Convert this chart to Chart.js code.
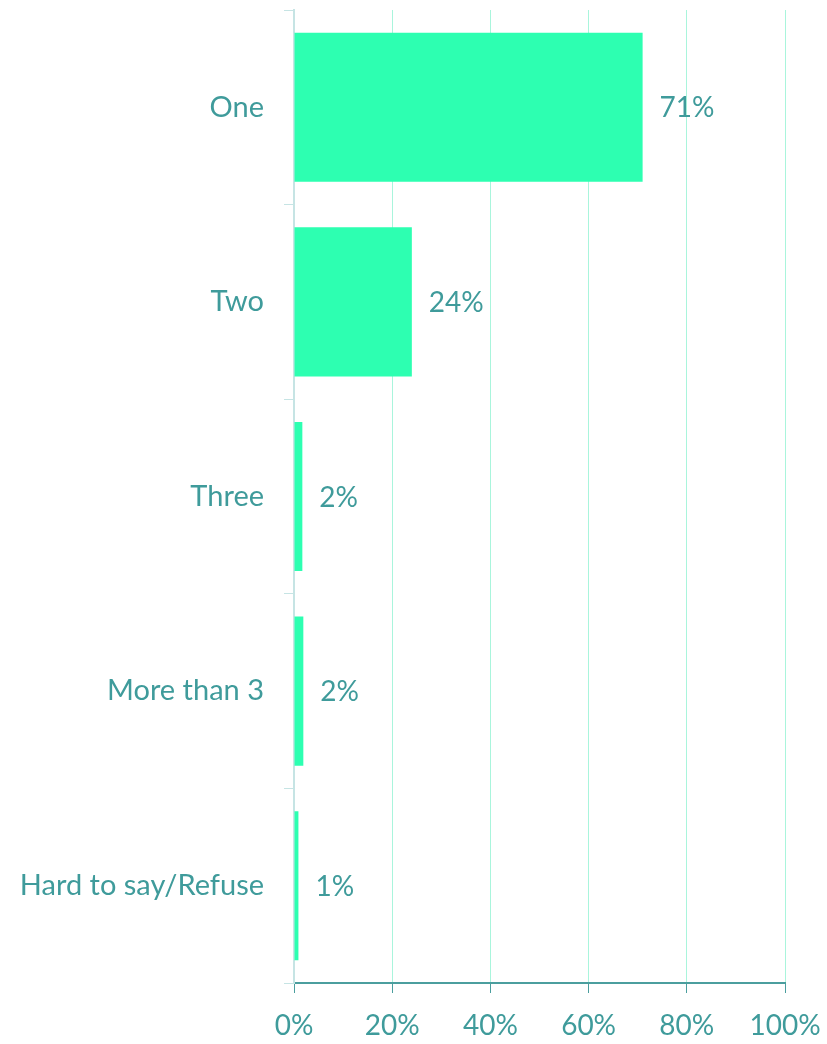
<!DOCTYPE html>
<html>
<head>
<meta charset="utf-8">
<script src="https://cdn.jsdelivr.net/npm/chart.js@4.4.1/dist/chart.umd.min.js"></script>
<style>
html,body{margin:0;padding:0;background:#fff;}
#wrap{width:827px;height:1044px;position:relative;}
</style>
</head>
<body>
<div id="wrap"><canvas id="c" width="827" height="1044"></canvas></div>
<script>
const categories = ["One", "Two", "Three", "More than 3", "Hard to say/Refuse"];
const values = [71, 24, 1.7, 1.9, 0.9];
const valueLabels = ["71%", "24%", "2%", "2%", "1%"];
const xTicks = [0, 20, 40, 60, 80, 100];

const TEXT = "#3f9b9b";
const FONT = "Lato, 'Open Sans', sans-serif";

const labelPlugin = {
  id: "valueLabels",
  afterDatasetsDraw(chart) {
    const ctx = chart.ctx;
    const meta = chart.getDatasetMeta(0);
    ctx.save();
    ctx.fillStyle = TEXT;
    ctx.font = "28px " + FONT;
    ctx.textAlign = "left";
    ctx.textBaseline = "middle";
    meta.data.forEach((bar, i) => {
      ctx.fillText(valueLabels[i], bar.x + 17, bar.y + 1);
    });
    ctx.restore();
  }
};

new Chart(document.getElementById("c"), {
  type: "bar",
  data: {
    labels: categories,
    datasets: [{
      data: values,
      backgroundColor: "#2dffb1",
      borderWidth: 0,
      categoryPercentage: 1,
      barPercentage: 0.766
    }]
  },
  options: {
    indexAxis: "y",
    responsive: false,
    animation: false,
    devicePixelRatio: 1,
    layout: { padding: { top: 10, right: 42, left: 0, bottom: 0 } },
    plugins: { legend: { display: false }, tooltip: { enabled: false } },
    scales: {
      x: {
        min: 0, max: 100,
        afterBuildTicks(scale) { scale.ticks = xTicks.map(v => ({ value: v })); },
        afterFit(scale) { scale.height = 61; scale.paddingLeft = 0; scale.paddingRight = 0; },
        ticks: {
          color: TEXT,
          font: { family: FONT, size: 28 },
          padding: 16,
          maxRotation: 0,
          callback: v => v + "%"
        },
        grid: { color: "#a9f5dc", tickColor: "#4b9e9e", tickLength: 10, lineWidth: 1 },
        border: { color: "#4b9e9e", width: 2 }
      },
      y: {
        afterFit(scale) { scale.width = 294; scale.paddingTop = 0; scale.paddingBottom = 0; },
        ticks: { color: TEXT, font: { family: FONT, size: 29 }, padding: 20 },
        grid: { drawOnChartArea: false, color: "#c6e4e4", tickLength: 10, offset: true },
        border: { color: "#c6e4e4", width: 2 }
      }
    }
  },
  plugins: [labelPlugin]
});
</script>
</body>
</html>
